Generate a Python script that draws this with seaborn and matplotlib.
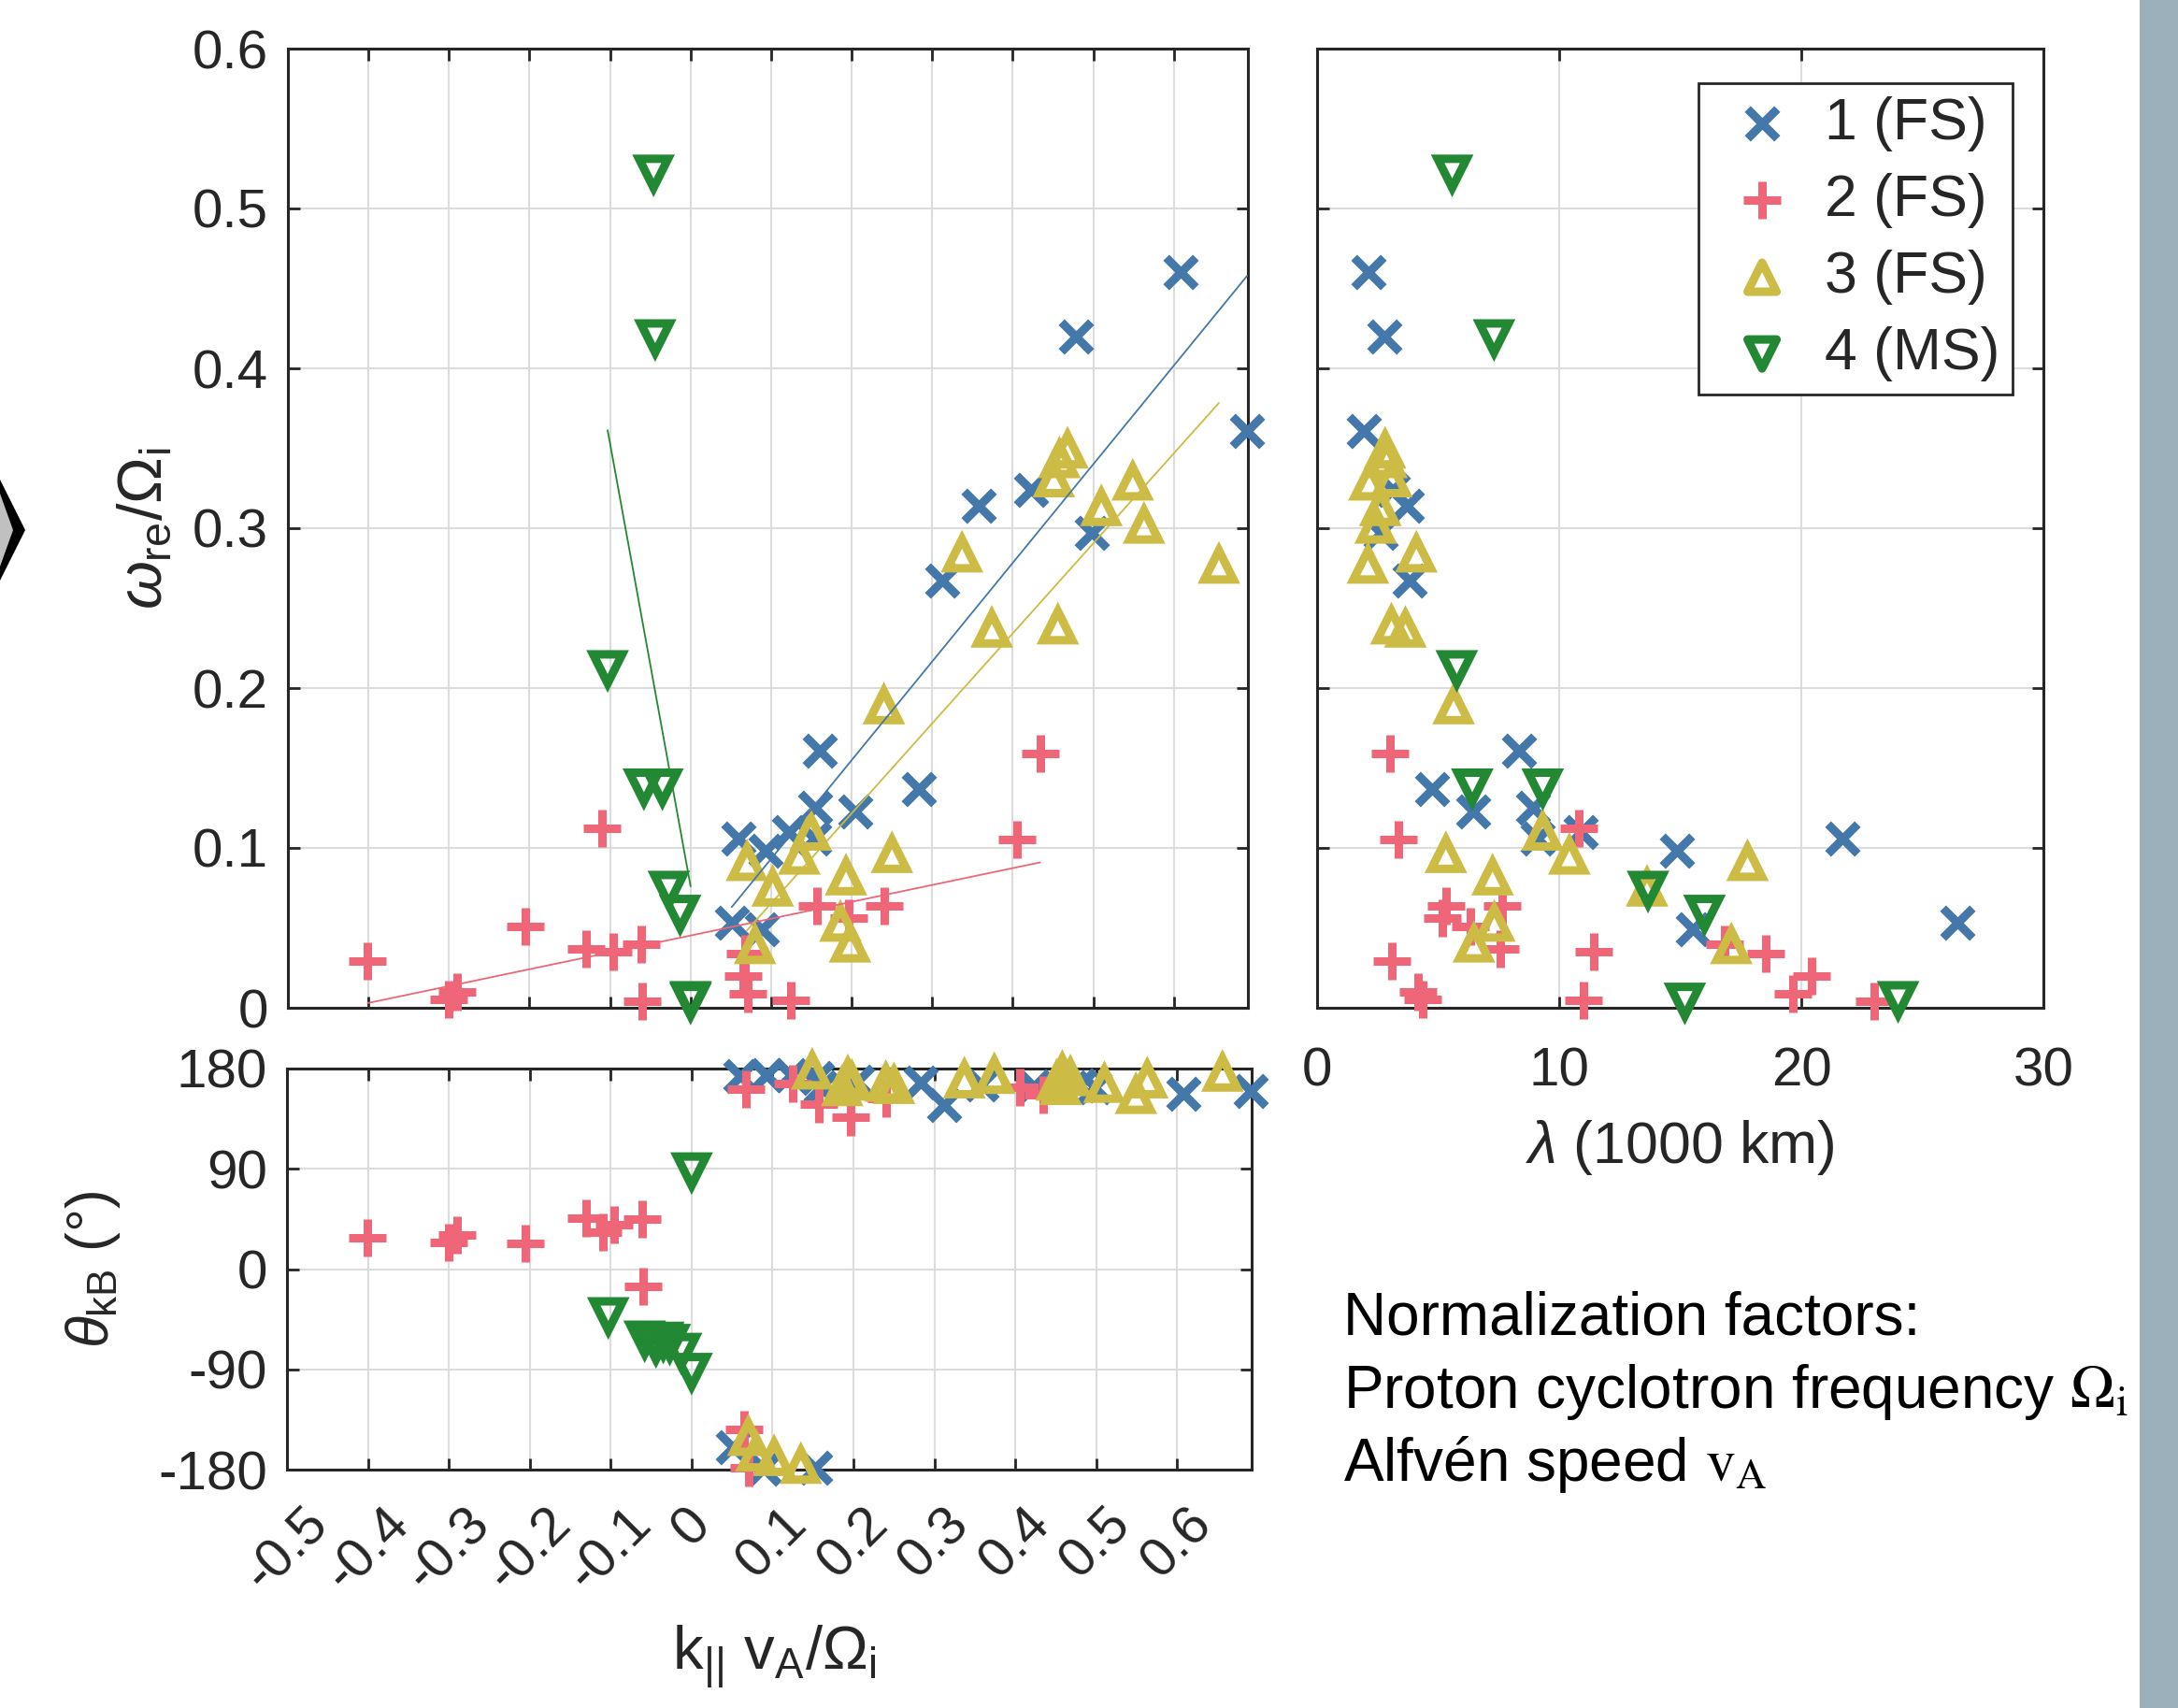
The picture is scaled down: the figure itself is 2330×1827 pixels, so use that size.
import matplotlib
matplotlib.use('Agg')
import matplotlib.pyplot as plt
from matplotlib.patches import Polygon, Rectangle
import numpy as np
import pandas as pd
import seaborn as sns

sns.set_theme(style='ticks')
plt.rcParams['font.family'] = ['Liberation Sans', 'DejaVu Sans']
plt.rcParams['mathtext.fontset'] = 'custom'
plt.rcParams['mathtext.rm'] = 'Liberation Sans'
plt.rcParams['mathtext.it'] = 'Liberation Sans:italic'
plt.rcParams['mathtext.bf'] = 'Liberation Sans:bold'
plt.rcParams['axes.unicode_minus'] = False

# series 1 (FS) - blue crosses
k1 = [0.608, 0.479, 0.691, 0.358, 0.423, 0.498, 0.312, 0.160, 0.283, 0.155, 0.205, 0.122, 0.153, 0.093, 0.060, 0.051, 0.089]
w1 = [0.460, 0.420, 0.361, 0.314, 0.324, 0.297, 0.267, 0.161, 0.137, 0.125, 0.123, 0.110, 0.106, 0.098, 0.106, 0.053, 0.049]
lam1 = [2.13, 2.78, 1.94, 3.71, 3.13, 2.61, 3.84, 8.35, 4.74, 8.93, 6.45, 10.88, 9.12, 14.85, 21.69, 26.46, 15.53]
th1 = [157, 165, 160, 166, 164, 163, 147, 163, 167, 172, 168, 174, -178, 174, 173, -160, -179]

# series 2 (FS) - red plus
k2 = [-0.401, -0.300, -0.290, -0.205, -0.130, -0.110, -0.096, -0.061, -0.060, 0.067, 0.065, 0.071, 0.125, 0.157, 0.196, 0.240, 0.434, 0.405]
w2 = [0.029, 0.005, 0.010, 0.051, 0.037, 0.112, 0.035, 0.040, 0.004, 0.034, 0.020, 0.009, 0.0045, 0.064, 0.056, 0.064, 0.159, 0.105]
lam2 = [3.07, 4.36, 4.16, 6.35, 7.57, 10.80, 11.41, 16.83, 23.02, 18.52, 20.43, 19.66, 11.00, 7.64, 5.19, 5.32, 3.00, 3.36]
th2 = [28.5, 23.5, 30.8, 23.0, 45.9, 32.8, 39.7, 44.5, -15.4, 161.8, -143.6, -178, 166.5, 147.7, 136.5, 153.4, 156.1, 163.2]

# series 3 (FS) - yellow triangles
k3 = [0.468, 0.458, 0.451, 0.549, 0.510, 0.563, 0.337, 0.656, 0.374, 0.456, 0.240, 0.149, 0.135, 0.070, 0.102, 0.193, 0.250, 0.186, 0.198, 0.080]
w3 = [0.349, 0.343, 0.331, 0.329, 0.313, 0.302, 0.284, 0.277, 0.237, 0.239, 0.189, 0.110, 0.095, 0.091, 0.075, 0.082, 0.096, 0.053, 0.040, 0.039]
lam3 = [2.81, 2.87, 3.07, 2.16, 2.61, 2.42, 4.10, 2.10, 3.65, 3.07, 5.64, 9.32, 10.42, 17.78, 13.63, 7.25, 5.32, 7.32, 6.48, 17.11]
th3 = [172, 176, 168, 156, 166, 170, 170, 176, 174, 164, 167, 178, -176, -151, -169, 172, 165, 163, 168, -165]

# series 4 (MS) - green down triangles
k4 = [-0.046, -0.044, -0.103, -0.058, -0.035, -0.027, -0.013, 0.0, 0.0]
w4 = [0.522, 0.419, 0.212, 0.138, 0.138, 0.074, 0.059, 0.004, 0.005]
lam4 = [5.58, 7.31, 5.77, 6.41, 9.32, 13.67, 16.0, 15.19, 24.0]
th4 = [-65, -68, -42, -63, -64, -66, -74, 88, -92]

# linear fits omega = a*k + b
fit_slope = [0.617, 0.1054, 0.563, -2.77]
fit_icpt = [0.0315, 0.0452, 0.009, 0.076]

labels = ['1 (FS)', '2 (FS)', '3 (FS)', '4 (MS)']
colors = ['#4477AA', '#EE6677', '#CCBB44', '#228833']
markers = ['x', '+', '^', 'v']
msizes = [520, 860, 500, 500]
MLW = 6.5

frames = []
for k, w, lam, th in [(k1, w1, lam1, th1), (k2, w2, lam2, th2), (k3, w3, lam3, th3), (k4, w4, lam4, th4)]:
    frames.append(pd.DataFrame({'k': k, 'omega': w, 'lam': lam, 'theta': th}))

W, H = 2330, 1827
fig = plt.figure(figsize=(W / 100, H / 100), dpi=100)
ax1 = fig.add_axes([308 / W, 1 - 1078 / H, 1027 / W, 1026 / H])
ax2 = fig.add_axes([1409 / W, 1 - 1078 / H, 777 / W, 1026 / H])
ax3 = fig.add_axes([307 / W, 1 - 1572 / H, 1032 / W, 429 / H])

FS = 42
LFS = 45
dark = '#262626'


def draw(ax, xcol, ycol):
    for i, df in enumerate(frames):
        kw = dict(color=colors[i], marker=markers[i], s=msizes[i], linewidth=MLW,
                  clip_on=False, zorder=3 + i)
        if markers[i] in ('^', 'v'):
            kw.update(facecolor='none', edgecolor=colors[i])
        sns.scatterplot(data=df, x=xcol, y=ycol, ax=ax, label=labels[i], legend=False, **kw)
    for coll in ax.collections:
        coll.set_linewidths(MLW)
        coll.set_joinstyle('miter')
        coll.set_capstyle('butt')


draw(ax1, 'k', 'omega')
draw(ax2, 'lam', 'omega')
draw(ax3, 'k', 'theta')

# fit lines over each series' k range
for i, df in enumerate(frames):
    xx = np.array([df['k'].min(), df['k'].max()])
    ax1.plot(xx, fit_slope[i] * xx + fit_icpt[i], color=colors[i], lw=1.3, zorder=8)

for ax in (ax1, ax2, ax3):
    ax.tick_params(direction='in', length=9, width=2, colors=dark, labelsize=FS,
                   top=True, right=True)
    ax.grid(True, color='#dcdcdc', linewidth=1.5)
    ax.set_axisbelow(True)
    for sp in ax.spines.values():
        sp.set_visible(True)
        sp.set_linewidth(2.2)
        sp.set_color(dark)
    ax.set_xlabel('')
    ax.set_ylabel('')

kt = np.round(np.arange(-0.5, 0.61, 0.1), 1)
kt_lab = ['0' if v == 0 else f'{v:g}' for v in kt]
wt = np.round(np.arange(0, 0.61, 0.1), 1)
wt_lab = ['0' if v == 0 else f'{v:g}' for v in wt]

ax1.set_xlim(-0.5, 0.692)
ax1.set_ylim(0, 0.6)
ax1.set_xticks(kt)
ax1.set_yticks(wt)
ax1.set_yticklabels(wt_lab)
ax1.tick_params(axis='x', labelbottom=False)
ax1.tick_params(axis='y', pad=15)

ax2.set_xlim(0, 30)
ax2.set_ylim(0, 0.6)
ax2.set_xticks([0, 10, 20, 30])
ax2.set_yticks(wt)
ax2.tick_params(axis='y', labelleft=False)
ax2.tick_params(axis='x', pad=30)

ax3.set_xlim(-0.5, 0.692)
ax3.set_ylim(-180, 180)
ax3.set_yticks([-180, -90, 0, 90, 180])
ax3.set_xticks(kt)
ax3.set_xticklabels(kt_lab, rotation=45, ha='center')
ax3.tick_params(axis='y', pad=15)
ax3.tick_params(axis='x', pad=22)

ax1.set_ylabel(r'$\omega_{\mathrm{re}}/\Omega_{\mathrm{i}}$', fontsize=48, color=dark)
ax1.yaxis.set_label_coords(-0.118, 0.5)
ax3.set_ylabel(r'$\theta_{\mathrm{kB}}$ (°)', fontsize=LFS, color=dark)
ax3.yaxis.set_label_coords(-0.171, 0.5)
ax3.set_xlabel(r'$\mathrm{k}_{||}\ \mathrm{v}_{\mathrm{A}}/\Omega_{\mathrm{i}}$', fontsize=47, color=dark)
ax3.xaxis.set_label_coords(0.505, -0.385)
ax2.set_xlabel(r'$\lambda$ (1000 km)', fontsize=LFS, color=dark)
ax2.xaxis.set_label_coords(0.5, -0.115)

h, l = ax2.get_legend_handles_labels()
leg = ax2.legend(h, l, loc='upper right', bbox_to_anchor=(0.958, 0.964), borderaxespad=0,
                 fontsize=LFS, frameon=True, fancybox=False, framealpha=1, edgecolor=dark,
                 handlelength=1.75, handletextpad=0.2, borderpad=0.22, labelspacing=0.37,
                 scatterpoints=1)
leg.get_frame().set_linewidth(2)

# normalization note
tx = 1437 / W
NFS = 46
fig.text(tx, 1 - 1428 / H, 'Normalization factors:', fontsize=NFS, color='black')
fig.text(tx, 1 - 1506 / H, r'Proton cyclotron frequency $\Omega_\mathrm{i}$', fontsize=NFS,
         color='black', math_fontfamily='stix')
fig.text(tx, 1 - 1584 / H, r'Alfvén speed $\mathrm{v}_\mathrm{A}$', fontsize=NFS,
         color='black', math_fontfamily='stix')

# slide decorations: grey strip on the right, chevron on the left
fig.patches.append(Rectangle((2289 / W, 0), 1 - 2289 / W, 1, transform=fig.transFigure,
                             facecolor='#9bb0ba', edgecolor='none'))
outer = [(0, 513), (27, 567), (0, 621)]
inner = [(0, 528), (14, 567), (0, 606)]
fig.patches.append(Polygon([(x / W, 1 - y / H) for x, y in outer], closed=True,
                           transform=fig.transFigure, facecolor='black', edgecolor='none'))
fig.patches.append(Polygon([(x / W, 1 - y / H) for x, y in inner], closed=True,
                           transform=fig.transFigure, facecolor='#c0c0c0', edgecolor='none'))

fig.savefig('out.png', dpi=100)
